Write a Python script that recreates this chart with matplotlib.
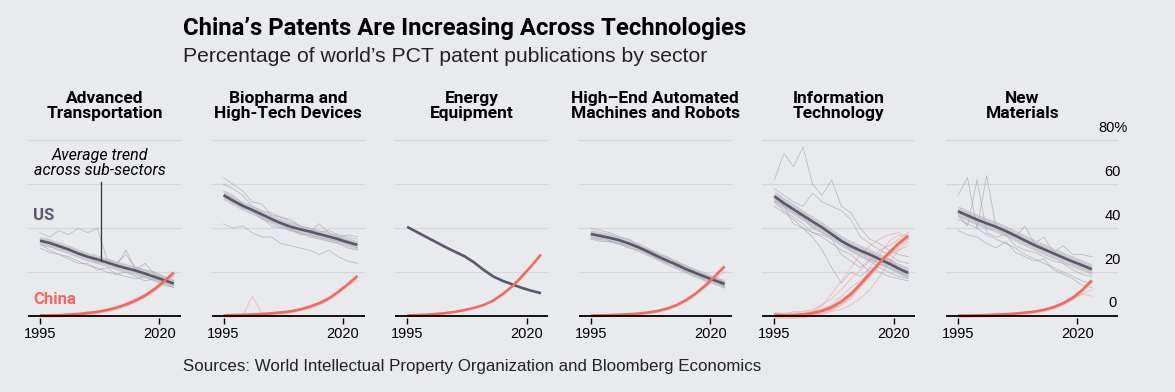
import numpy as np
import matplotlib
matplotlib.use("Agg")
import matplotlib.pyplot as plt

plt.rcParams['font.family'] = ['Roboto', 'DejaVu Sans']

BG = '#e9eaee'
US_COLOR = '#5a576b'
CN_COLOR = '#ef6b60'

SECTORS = ["Advanced\nTransportation", "Biopharma and\nHigh-Tech Devices", "Energy\nEquipment",
           "High\u2013End Automated\nMachines and Robots", "Information\nTechnology", "New\nMaterials"]
YEARS = list(range(1995, 2024, 2))
YTICKS = [0, 20, 40, 60, 80]
YTICK_LABELS = ["0", "20", "40", "60", "80%"]

# average trend across sub-sectors
US_TREND = [
    [34.3, 33.3, 31.8, 30.3, 28.5, 27.0, 25.8, 24.4, 23.0, 21.8, 20.7, 19.3, 17.8, 16.3, 14.8],
    [55.0, 52.5, 50.2, 48.3, 46.3, 44.2, 42.3, 40.7, 39.5, 38.5, 37.3, 36.2, 35.0, 33.6, 32.4],
    [40.6, 38.3, 36.0, 33.7, 31.4, 29.3, 27.2, 24.4, 21.0, 18.0, 16.0, 14.4, 12.8, 11.5, 10.4],
    [37.3, 36.5, 35.6, 34.5, 33.0, 31.3, 29.3, 27.2, 25.2, 23.3, 21.3, 19.5, 17.8, 16.2, 14.6],
    [54.5, 51.4, 48.6, 45.8, 43.0, 40.3, 37.3, 34.2, 31.8, 29.8, 28.0, 25.9, 23.9, 21.6, 19.6],
    [47.7, 45.8, 43.9, 42.2, 40.6, 38.7, 36.6, 34.4, 32.3, 30.4, 28.5, 26.6, 24.8, 23.1, 21.3],
]
CHINA_TREND = [
    [0.3, 0.3, 0.4, 0.6, 0.9, 1.3, 1.9, 2.7, 3.8, 5.2, 7.0, 9.3, 12.3, 15.8, 19.8],
    [0.3, 0.4, 0.5, 0.7, 0.9, 1.2, 1.6, 2.1, 3.0, 4.2, 5.8, 8.0, 11.0, 14.5, 18.2],
    [0.3, 0.4, 0.6, 0.9, 1.3, 1.9, 2.7, 3.7, 5.0, 7.0, 10.0, 13.5, 18.0, 22.8, 28.0],
    [0.2, 0.3, 0.4, 0.6, 0.8, 1.1, 1.6, 2.3, 3.4, 5.0, 7.3, 10.3, 14.0, 18.2, 22.6],
    [0.5, 0.3, 0.4, 0.7, 1.3, 2.3, 4.0, 6.5, 10.0, 14.5, 19.3, 24.2, 28.8, 33.0, 36.5],
    [0.2, 0.2, 0.3, 0.4, 0.6, 0.8, 1.1, 1.5, 2.0, 2.8, 4.0, 5.8, 8.3, 11.8, 16.2],
]
US_BAND = [2.0, 2.0, 0.0, 2.0, 2.5, 2.5]
CN_BAND = [0.8, 0.8, 0.0, 0.6, 1.5, 0.8]

# individual sub-sectors
US_SUB = [
    [[38, 36, 39, 37, 40, 38, 40, 26, 24, 28, 22, 21, 20, 18, 16],
     [35, 32, 30, 31, 28, 27, 24, 25, 23, 30, 21, 24, 19, 17, 15],
     [33, 30, 28, 27, 25, 23, 22, 20, 19, 18, 17, 18, 16, 14, 13],
     [31, 29, 28, 26, 24, 24, 21, 22, 19, 20, 18, 16, 17, 15, 14]],
    [[63, 60, 57, 52, 51, 46, 45, 44, 41, 40, 38, 39, 37, 36, 35],
     [60, 58, 55, 50, 48, 47, 45, 43, 41, 38, 42, 38, 36, 37, 36],
     [42, 40, 41, 38, 36, 36, 33, 32, 31, 30, 28, 30, 27, 25, 24],
     [57, 55, 51, 48, 44, 43, 42, 39, 38, 36, 35, 34, 33, 31, 30],
     [55, 54, 49, 49, 45, 41, 40, 40, 37, 37, 36, 35, 34, 33, 31]],
    [],
    [[40, 39, 38, 36, 35, 32, 30, 28, 27, 24, 23, 20, 16, 18, 15],
     [38, 37, 34, 33, 32, 31, 29, 26, 24, 25, 20, 21, 18, 16, 14],
     [36, 35, 36, 35, 33, 31, 28, 27, 26, 22, 22, 19, 19, 15, 14],
     [35, 34, 34, 33, 31, 30, 29, 26, 25, 23, 20, 18, 17, 17, 13]],
    [[62, 74, 68, 77, 60, 55, 62, 50, 47, 40, 35, 33, 30, 28, 27],
     [58, 55, 52, 50, 56, 52, 50, 48, 44, 36, 33, 30, 28, 25, 24],
     [55, 50, 47, 45, 40, 38, 36, 34, 30, 27, 25, 22, 20, 18, 17],
     [50, 47, 44, 40, 36, 30, 22, 15, 20, 18, 22, 20, 18, 17, 16],
     [52, 48, 45, 42, 38, 36, 33, 30, 28, 24, 20, 24, 22, 20, 18],
     [53, 50, 42, 40, 38, 37, 35, 28, 25, 22, 26, 24, 26, 22, 20]],
    [[55, 63, 40, 64, 40, 37, 36, 41, 33, 36, 29, 32, 28, 28, 27],
     [46, 41, 62, 38, 36, 37, 32, 30, 29, 27, 25, 24, 21, 19, 18],
     [44, 42, 40, 37, 35, 33, 31, 28, 26, 24, 22, 20, 18, 16, 15],
     [39, 37, 36, 33, 31, 34, 29, 27, 25, 26, 21, 19, 17, 14, 13]],
]
CHINA_SUB = [
    [[0, 0, 0.5, 1, 1, 2, 2, 3, 4, 6, 8, 10, 13, 16, 18]],
    [[0, 0, 0, 9, 1, 1, 1.5, 2, 3, 4, 6, 8, 11, 14, 16]],
    [],
    [[0, 0, 0.3, 0.5, 0.8, 1, 1.5, 2, 3, 5, 7, 10, 13, 17, 20]],
    [[0, 0, 0.5, 1, 2, 5, 10, 16, 22, 28, 32, 35, 37, 38, 36],
     [0, 0, 0, 0.5, 1, 2, 3, 5, 8, 14, 22, 28, 34, 37, 35],
     [0, 0, 0, 1, 2, 3, 5, 9, 13, 16, 20, 24, 28, 30, 32],
     [0, 0, 0, 0, 0.5, 1, 2, 3, 5, 8, 12, 18, 24, 30, 34],
     [1, 1, 2, 2, 3, 5, 8, 12, 17, 21, 25, 30, 32, 35, 38]],
    [[0, 0, 0, 0.3, 0.5, 0.7, 1, 1.5, 2, 3, 4.5, 6, 8, 10, 9],
     [0, 0, 0, 0.2, 0.4, 0.6, 0.9, 1.3, 1.8, 2.6, 3.8, 5.5, 7.5, 10, 12]],
]

W, H = 1175, 392
fig = plt.figure(figsize=(W / 100, H / 100), dpi=100, facecolor=BG)
plain = ['Liberation Sans', 'DejaVu Sans']

px_per_year = 4.78
x0, x1 = 1992.5, 2024.5
ax_w = (x1 - x0) * px_per_year
ax_bottom = 1 - 318.2 / H
ax_height = (318.2 - 136.0) / H

for i, title in enumerate(SECTORS):
    left = 28 + i * 183.6
    extra = 4 if i == len(SECTORS) - 1 else 0
    ax = fig.add_axes([left / W, ax_bottom, (ax_w + extra * px_per_year) / W, ax_height])
    ax.set_facecolor(BG)
    ax.set_xlim(x0, x1 + extra)
    ax.set_ylim(-1, 82)
    for s in ax.spines.values():
        s.set_visible(False)
    for g in YTICKS[1:]:
        ax.axhline(g, color='#d6d7dd', lw=0.9, zorder=0)
    ax.axhline(0, color='black', lw=1.3, zorder=5)
    ax.set_yticks([])
    ax.set_xticks([1995, 2020])
    ax.set_xticklabels(['1995', '2020'], fontsize=10.5, family=plain)
    ax.tick_params(axis='x', length=4, width=1, color='black', pad=2)

    for sub in US_SUB[i]:
        ax.plot(YEARS, sub, color='#8e8d99', lw=0.6, alpha=0.5, zorder=1)
    for sub in CHINA_SUB[i]:
        ax.plot(YEARS, sub, color='#f08a80', lw=0.6, alpha=0.5, zorder=1)

    us = np.array(US_TREND[i])
    cn = np.array(CHINA_TREND[i])
    if US_BAND[i] > 0:
        ax.fill_between(YEARS, us - US_BAND[i], us + US_BAND[i], color='#b3b3bc', alpha=0.55, lw=0, zorder=2)
    if CN_BAND[i] > 0:
        ax.fill_between(YEARS, cn - CN_BAND[i], cn + CN_BAND[i], color='#f4aaa3', alpha=0.55, lw=0, zorder=2)
    ax.plot(YEARS, us, color=US_COLOR, lw=1.9, zorder=3, solid_capstyle='butt')
    ax.plot(YEARS, cn, color=CN_COLOR, lw=1.9, zorder=3, solid_capstyle='butt')

    fig.text((left + ax_w / 2) / W, 1 - 106 / H, title, ha='center', va='center',
             fontsize=12.5, fontweight='bold', linespacing=0.95)

    if i == 0:
        ax.text(1993.6, 46, 'US', color=US_COLOR, fontsize=12, fontweight='bold', va='center', ha='left')
        ax.text(1993.6, 7.3, 'China', color=CN_COLOR, fontsize=12, fontweight='bold', va='center', ha='left')
        ax.plot([2007.7, 2007.7], [60.9, 25.6], color='#333333', lw=0.9, zorder=4)
        ax.text(2007.5, 69.5, 'Average trend\nacross sub-sectors', ha='center', va='center',
                fontsize=11.5, style='italic', linespacing=1.0)
    if i == len(SECTORS) - 1:
        for v, lab in zip(YTICKS, YTICK_LABELS):
            ax.annotate(lab, xy=(2027.4, v), xytext=(0, 4), textcoords='offset points',
                        ha='center', va='bottom', fontsize=10.5, family=plain)

fig.text(183 / W, 1 - 28 / H, "China\u2019s Patents Are Increasing Across Technologies",
         fontsize=17.2, fontweight='bold', va='center', ha='left')
fig.text(183 / W, 1 - 57 / H, "Percentage of world\u2019s PCT patent publications by sector",
         fontsize=15.2, va='center', ha='left', color='#222222', family=plain)
fig.text(183 / W, 1 - 366 / H, "Sources: World Intellectual Property Organization and Bloomberg Economics",
         fontsize=12.2, va='center', ha='left', color='#222222', family=plain)

fig.savefig('out.png', dpi=100, facecolor=BG)
